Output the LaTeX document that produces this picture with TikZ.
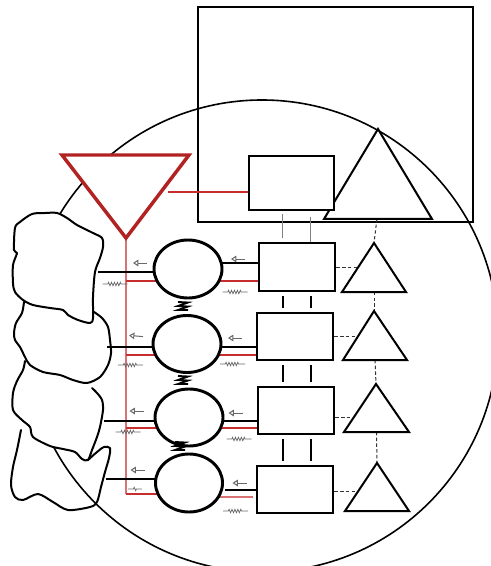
\documentclass[tikz,border=0pt]{standalone}
\usetikzlibrary{shapes.geometric,arrows.meta,decorations.pathmorphing,calc}
\pgfdeclarelayer{back}
\pgfdeclarelayer{links}
\pgfsetlayers{back,links,main}
\definecolor{alarmred}{RGB}{178,34,34}
\definecolor{wirered}{RGB}{200,45,45}
\definecolor{busred}{RGB}{215,115,115}
\definecolor{notegray}{RGB}{105,105,105}

\tikzset{
  body/.style={ellipse, draw, fill=white, line width=2.2pt, inner sep=0pt},
  block/.style={rectangle, draw, fill=white, line width=2.2pt, inner sep=0pt,
    minimum width=57pt, minimum height=35.25pt},
  topframe/.style={rectangle, draw, line width=1.5pt, inner sep=0pt},
  cone/.style={draw, fill=white, line width=1.5pt, line join=miter},
  rock/.style={draw, line width=1.5pt, line join=round, line cap=round},
  link/.style={line width=1.5pt},
  wire/.style={draw=wirered, line width=0.9pt},
  bus/.style={draw=busred, line width=0.9pt},
  guide/.style={dash pattern=on 2.5pt off 1.8pt, line width=0.75pt, draw=black!80},
  tie/.style={line width=1.5pt, shorten <=2.5pt, shorten >=3pt},
  hint/.style={draw=notegray, line width=0.75pt, -{Triangle[open, length=4pt, width=5pt]}},
  coil/.style={draw=notegray, line width=0.55pt, decorate,
    decoration={zigzag, amplitude=1.3pt, segment length=2.2pt, pre length=4pt, post length=4pt}},
  zmark/.pic={\draw[line width=1.4pt, line join=miter]
    (-5,-4) -- (5,-3.5) -- (-5,0) -- (5,0.5) -- (-5,4) -- (5,4);},
  nudge/.pic={\draw[hint] (7,0) -- (-7,0);},
  coilmark/.pic={\draw[coil] (-12.5,0) -- (12.5,0);}
}

\begin{document}
\begin{tikzpicture}[x=0.75pt, y=-0.75pt]
\useasboundingbox (0,0) rectangle (491,566);

% ---------- background: ring, frame and the stacked rocks ----------
\begin{pgfonlayer}{back}
  \begin{scope}
    \clip (0,0) rectangle (491,566);
    \draw[line width=1.2pt] (262,336) circle[radius=177pt];
  \end{scope}
  \node[topframe, minimum width=206.25pt, minimum height=161.25pt] (frame) at (335.5,114.5) {};

  \draw[rock, fill=white] plot[smooth, tension=0.5] coordinates {
    (25,361) (23,370) (17,381) (13,393) (13,410) (22,420) (30,427) (33,437)
    (50,446) (63,449) (75,452) (82,459) (88,460) (92,450) (97,437) (100,427)
    (103,410) (102,400) (97,393) (92,388)};
  \draw[rock, fill=white] plot[smooth, tension=0.5] coordinates {
    (24,302) (22,313) (16,323) (14,333) (15,340) (20,347) (25,357) (30,365)
    (43,372) (60,375) (73,380) (87,383) (100,377) (108,365) (111,353) (110,340)
    (108,327) (102,318) (94,312)};
  \draw[rock, fill=white] plot[smooth cycle, tension=0.5] coordinates {
    (57,213) (45,213) (32,214) (20,222) (15,228) (14,250) (17,253) (13,265)
    (13,283) (15,292) (23,300) (33,305) (50,308) (63,310) (68,315) (78,320)
    (90,323) (93,318) (93,297) (95,272) (100,258) (103,247) (102,238) (93,233)
    (77,225) (67,218)};
  \draw[rock] plot[smooth, tension=0.5] coordinates {
    (88,460) (97,452) (104,447) (110,448) (109,458) (105,472) (101,487) (97,502)
    (90,507) (68,510) (53,502) (38,494) (23,500) (15,497) (11,485) (13,467)
    (17,450) (21,430)};
\end{pgfonlayer}

% ---------- red warning triangle ----------
\coordinate (ra) at (62,155);
\coordinate (rb) at (189,155);
\coordinate (rapex) at (126,238);
\draw[draw=alarmred, fill=white, line width=2.6pt, line join=miter] (ra) -- (rb) -- (rapex) -- cycle;

% ---------- large triangle and the box in the frame ----------
\coordinate (bta) at (378,129);
\coordinate (btl) at (324,219);
\coordinate (btr) at (432,219);
\draw[cone] (bta) -- (btl) -- (btr) -- cycle;
\node[rectangle, draw, fill=white, line width=1.5pt, inner sep=0pt,
      minimum width=63.75pt, minimum height=40.5pt] (s) at (291.5,183) {};

% ---------- column of ellipses ----------
\node[body, minimum width=51pt, minimum height=43.5pt]    (c1) at (188,269) {};
\node[body, minimum width=51pt, minimum height=42.75pt]   (c2) at (187,344) {};
\node[body, minimum width=51pt, minimum height=42.75pt]   (c3) at (189,417.5) {};
\node[body, minimum width=50.25pt, minimum height=43.5pt] (c4) at (189,483) {};

% ---------- column of boxes ----------
\node[block, minimum height=36pt] (r1) at (297,267) {};
\node[block] (r2) at (295,336.5) {};
\node[block] (r3) at (296,410.5) {};
\node[block] (r4) at (295,489.5) {};

% ---------- column of small triangles ----------
\coordinate (t1a) at (374,243); \coordinate (t1l) at (342,292); \coordinate (t1r) at (406,292);
\coordinate (t2a) at (374,311); \coordinate (t2l) at (343,360); \coordinate (t2r) at (407,360);
\coordinate (t3a) at (376,384); \coordinate (t3l) at (344,432); \coordinate (t3r) at (409,432);
\coordinate (t4a) at (377,463); \coordinate (t4l) at (345,511); \coordinate (t4r) at (409,511);
\draw[cone] (t1a) -- (t1l) -- (t1r) -- cycle;
\draw[cone] (t2a) -- (t2l) -- (t2r) -- cycle;
\draw[cone] (t3a) -- (t3l) -- (t3r) -- cycle;
\draw[cone] (t4a) -- (t4l) -- (t4r) -- cycle;

% ---------- clamps between ellipses ----------
\pic at (183,306) {zmark};
\pic at (183,380) {zmark};
\pic at (180,446) {zmark};

% ---------- small gray arrows and coils ----------
\pic at (140,263) {nudge};
\pic at (238,259) {nudge};
\pic[rotate=-5] at (136,336) {nudge};
\pic at (235,338) {nudge};
\pic at (136.5,411) {nudge};
\pic at (235.5,413) {nudge};
\pic at (137.5,470) {nudge};
\pic at (239.5,483) {nudge};

\pic at (115,284) {coilmark};
\pic at (235,292) {coilmark};
\pic at (130.5,365) {coilmark};
\pic at (232.5,364) {coilmark};
\pic at (128,432) {coilmark};
\pic at (239,439) {coilmark};
\pic[xscale=0.55] at (135,489) {coilmark};
\pic at (235.5,511) {coilmark};

% ---------- connectors ----------
\coordinate (bus4) at (126,494);
\coordinate (tap1) at (126,281);
\coordinate (tap2) at (126,355);
\coordinate (tap3) at (126,428);
\coordinate (w4)   at (253,497);
\coordinate (rt)   at (168,192);
\coordinate (b1) at (98,272);
\coordinate (b2) at (107,347);
\coordinate (b3) at (104,421);
\coordinate (b4) at (106,479);
\coordinate (k1) at (225,263);
\coordinate (k2) at (225,347);
\coordinate (k3) at (225,421);
\coordinate (k4) at (225,490);
\coordinate (tx1) at (282.5,0);
\coordinate (tx2) at (310.5,0);
\coordinate (g1) at ($(t1a)!0.5!(t1l)$);
\coordinate (g2) at ($(t2a)!0.53!(t2l)$);
\coordinate (g3) at ($(t3a)!0.69!(t3l)$);
\coordinate (g4) at ($(t4a)!0.6!(t4l)$);
\coordinate (bm)  at ($(btl)!0.49!(btr)$);
\coordinate (t1m) at ($(t1l)!0.5!(t1r)$);
\coordinate (t2m) at ($(t2l)!0.5!(t2r)$);
\coordinate (t3m) at ($(t3l)!0.5!(t3r)$);

\begin{pgfonlayer}{links}
  % red feed
  \draw[bus] (rapex) -- (bus4);
  \draw[wire] (tap1) -- (c1 |- tap1) -- (r1 |- tap1);
  \draw[wire] (tap2) -- (c2 |- tap2) -- (r2 |- tap2);
  \draw[wire] (tap3) -- (c3 |- tap3) -- (r3 |- tap3);
  \draw[wire] (bus4) -- (c4 |- bus4);
  \draw[bus] (c4 |- w4) -- (w4);
  \draw[wire] (rt) -- (s |- rt);
  % black links
  \draw[link] (b1) -- (c1 |- b1);
  \draw[link] (b2) -- (c2 |- b2);
  \draw[link] (b3) -- (c3 |- b3);
  \draw[link] (b4) -- (c4 |- b4);
  \draw[link] (c1 |- k1) -- (r1 |- k1);
  \draw[link] (c2 |- k2) -- (r2 |- k2);
  \draw[link] (c3 |- k3) -- (r3 |- k3);
  \draw[link] (k4) -- (r4 |- k4);
  % double ties between boxes
  \draw[tie, draw=gray, line width=1.1pt] (s.south -| tx1) -- (r1.north -| tx1);
  \draw[tie, draw=gray, line width=1.1pt, shorten <=4.5pt, shorten >=0pt] (s.south -| tx2) -- (r1.north -| tx2);
  \draw[tie] (r1.south -| tx1) -- (r2.north -| tx1);
  \draw[tie] (r1.south -| tx2) -- (r2.north -| tx2);
  \draw[tie] (r2.south -| tx1) -- (r3.north -| tx1);
  \draw[tie] (r2.south -| tx2) -- (r3.north -| tx2);
  \draw[tie] (r3.south -| tx1) -- (r4.north -| tx1);
  \draw[tie] (r3.south -| tx2) -- (r4.north -| tx2);
  % dashed guides
  \draw[guide] (r1.east |- g1) -- (g1);
  \draw[guide] (r2.east |- g2) -- (g2);
  \draw[guide] (r3.east |- g3) -- (g3);
  \draw[guide] (r4.east |- g4) -- (g4);
  \draw[guide] (bm) -- (t1a);
  \draw[guide] (t1m) -- (t2a);
  \draw[guide] (t2m) -- (t3a);
  \draw[guide] (t3m) -- (t4a);
\end{pgfonlayer}
\end{tikzpicture}
\end{document}
